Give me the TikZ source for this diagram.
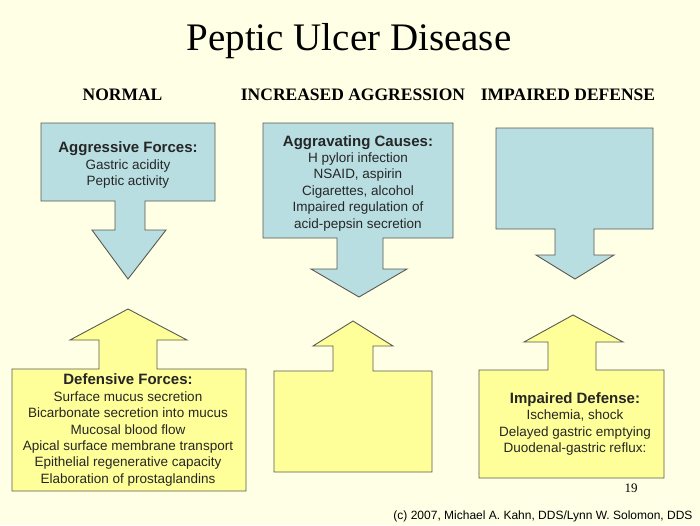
\documentclass[tikz,border=0pt]{standalone}
\usepackage{fontspec}
\setmainfont{Liberation Serif}
\newfontfamily\arialf{Liberation Sans}
\definecolor{bgc}{HTML}{FFFFE6}
\definecolor{bluef}{HTML}{B8DEE2}
\definecolor{yellowf}{HTML}{FFFF99}
\definecolor{edgec}{HTML}{5A5A50}
\tikzset{
  bluebox/.style={fill=bluef, draw=edgec, line width=0.9pt, line join=miter},
  yellowbox/.style={fill=yellowf, draw=edgec, line width=0.9pt, line join=miter},
  boxtext/.style={font=\arialf\fontsize{13.5}{16.4}\selectfont, align=center, inner sep=0pt, text=black!85},
  header/.style={font=\bfseries\fontsize{17.5}{20}\selectfont, anchor=base, inner sep=0pt},
}
\newcommand{\bt}[1]{{\bfseries\fontsize{15}{16.4}\selectfont #1}}
\begin{document}
\begin{tikzpicture}[x=1pt,y=-1pt]
\fill[bgc] (0,0) rectangle (700,525);
\useasboundingbox (0,0) rectangle (700,525);

\node[font=\fontsize{39}{42}\selectfont, anchor=base, inner sep=0pt] (title) at (349,50) {Peptic Ulcer Disease};
\node[header] (hnormal) at (122.5,100.5) {NORMAL};
\node[header] (hinc) at (353,100.5) {INCREASED AGGRESSION};
\node[header] (himp) at (568,100.5) {IMPAIRED DEFENSE};

% blue down arrows
\draw[bluebox] (41,123) -- (215,123) -- (215,201) -- (145,201) -- (145,230) -- (166,230) -- (128,279) -- (92,230) -- (115,230) -- (115,201) -- (41,201) -- cycle;
\draw[bluebox] (263,123) -- (453,123) -- (453,238) -- (383,238) -- (383,269) -- (407,269) -- (359,297) -- (311,269) -- (337,269) -- (337,238) -- (263,238) -- cycle;
\draw[bluebox] (496,128) -- (653,128) -- (653,229) -- (594,229) -- (594,255) -- (614,255) -- (575,279) -- (536,255) -- (555,255) -- (555,229) -- (496,229) -- cycle;

% yellow up arrows
\draw[yellowbox] (12,369) -- (99,369) -- (99,340) -- (70,340) -- (128,309) -- (187,340) -- (157,340) -- (157,369) -- (246,369) -- (246,491) -- (12,491) -- cycle;
\draw[yellowbox] (274,371) -- (333,371) -- (333,346) -- (313,346) -- (353,321) -- (393,346) -- (373,346) -- (373,371) -- (432,371) -- (432,472) -- (274,472) -- cycle;
\draw[yellowbox] (479,370) -- (548,370) -- (548,342) -- (524,342) -- (573,315) -- (623,342) -- (596,342) -- (596,370) -- (664,370) -- (664,478) -- (479,478) -- cycle;

% texts
\node[boxtext] (aggr) at (128,165) {\bt{Aggressive Forces:}\\Gastric acidity\\Peptic activity};
\node[boxtext] (aggrav) at (358,183) {\bt{Aggravating Causes:}\\H pylori infection\\NSAID, aspirin\\Cigarettes, alcohol\\Impaired regulation of\\acid-pepsin secretion};
\node[boxtext] (def) at (128,430) {\bt{Defensive Forces:}\\Surface mucus secretion\\Bicarbonate secretion into mucus\\Mucosal blood flow\\Apical surface membrane transport\\Epithelial regenerative capacity\\Elaboration of prostaglandins};
\node[boxtext] (impd) at (575,424) {\bt{Impaired Defense:}\\Ischemia, shock\\Delayed gastric emptying\\Duodenal-gastric reflux:};

\node[font=\fontsize{13}{15}\selectfont, inner sep=0pt] (pnum) at (631,488) {19};
\node[font=\arialf\fontsize{12}{15}\selectfont, inner sep=0pt] (copy) at (543,516) {(c) 2007, Michael A. Kahn, DDS/Lynn W. Solomon, DDS};
\end{tikzpicture}
\end{document}
